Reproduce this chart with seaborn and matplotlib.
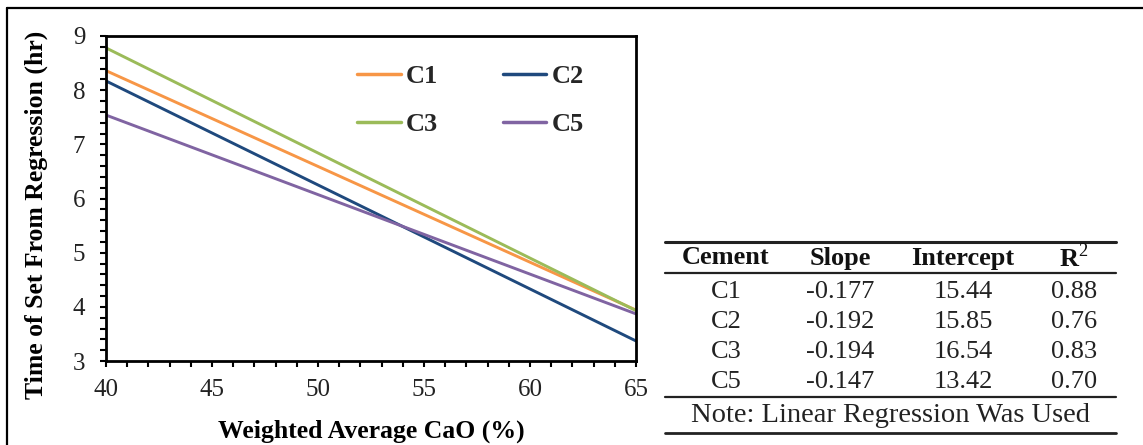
import matplotlib
matplotlib.use("Agg")
import matplotlib.pyplot as plt
from matplotlib.lines import Line2D
from matplotlib.ticker import MultipleLocator
import seaborn as sns
import pandas as pd

# ---- data ----
cements = ["C1", "C2", "C3", "C5"]
cao_x = [40, 65]
set_time_at_40 = [8.36, 8.17, 8.78, 7.54]
set_time_at_65 = [3.94, 3.37, 3.93, 3.87]
colors = ["#F79646", "#1F497D", "#9BBB59", "#8064A2"]

table_header = ["Cement", "Slope", "Intercept", "R$^2$"]
table_slope = ["-0.177", "-0.192", "-0.194", "-0.147"]
table_intercept = ["15.44", "15.85", "16.54", "13.42"]
table_r2 = ["0.88", "0.76", "0.83", "0.70"]
table_note = "Note: Linear Regression Was Used"

rows = []
for c, y0, y1 in zip(cements, set_time_at_40, set_time_at_65):
    rows.append({"CaO": cao_x[0], "Time": y0, "Cement": c})
    rows.append({"CaO": cao_x[1], "Time": y1, "Cement": c})
df = pd.DataFrame(rows)

sns.set_theme(style="white")
plt.rcParams["font.family"] = ["Liberation Serif", "DejaVu Serif"]
plt.rcParams["mathtext.fontset"] = "custom"
plt.rcParams["mathtext.rm"] = "Liberation Serif"
plt.rcParams["mathtext.bf"] = "Liberation Serif:bold"

W, H = 1143, 445
fig = plt.figure(figsize=(W / 100, H / 100), dpi=100)
fig.patch.set_facecolor("white")

def fx(px):
    return px / W

def fy(py):
    return 1 - py / H

ax = fig.add_axes([fx(106), fy(361), fx(636) - fx(106), fy(36) - fy(361)])
sns.lineplot(data=df, x="CaO", y="Time", hue="Cement", hue_order=cements,
             palette=colors, linewidth=2.1, ax=ax, legend=False)

ax.set_xlim(40, 65)
ax.set_ylim(3, 9)
ax.xaxis.set_major_locator(MultipleLocator(5))
ax.xaxis.set_minor_locator(MultipleLocator(1))
ax.yaxis.set_major_locator(MultipleLocator(1))
ax.yaxis.set_minor_locator(MultipleLocator(0.2))
ax.tick_params(which="both", direction="out", color="black", width=1.5,
               length=4, bottom=True, left=True, top=False, right=False)
ax.tick_params(which="major", labelsize=18, labelcolor="#222222")
ax.tick_params(axis="x", which="major", pad=9)
ax.tick_params(axis="y", which="major", pad=11)
for s in ax.spines.values():
    s.set_color("black")
    s.set_linewidth(2.0)

ax.set_xlabel("Weighted Average CaO (%)", fontsize=18.5, fontweight="bold",
              labelpad=13.5, color="black")
ax.set_ylabel("Time of Set From Regression (hr)", fontsize=18.5,
              fontweight="bold", color="black")
ax.yaxis.set_label_coords((48 - 106) / 530, (361 - 215) / 325)

handles = [Line2D([0], [0], color=col, lw=2.5) for col in colors]
order = [0, 2, 1, 3]
leg = ax.legend([handles[i] for i in order], [cements[i] for i in order],
                ncol=2, loc="upper left", bbox_to_anchor=(0.474, 0.913),
                frameon=False, prop={"weight": "bold", "size": 19},
                handlelength=1.65, handletextpad=0.2, columnspacing=2.45,
                labelspacing=0.94, borderpad=0, borderaxespad=0)

# ---- outer frame (cropped) ----
fig.add_artist(Line2D([fx(7), 1.0], [fy(8), fy(8)], color="black", lw=1.6,
                      transform=fig.transFigure))
fig.add_artist(Line2D([fx(7), fx(7)], [fy(8), 0.0], color="black", lw=1.6,
                      transform=fig.transFigure))

# ---- table ----
tx0, tx1 = fx(665), fx(1116)
col_x = [726, 840, 963, 1074]
for py, lw in [(242, 2.2), (273, 1.6), (397, 1.6), (433, 2.0)]:
    fig.add_artist(Line2D([tx0, tx1], [fy(py), fy(py)], color="#222222",
                          lw=lw, transform=fig.transFigure))
for cx, h in zip(col_x, table_header):
    fig.text(fx(cx), fy(258), h, ha="center", va="center", fontsize=19,
             fontweight="bold", color="#111111")
row_y = [292, 322, 352, 382]
for i, py in enumerate(row_y):
    vals = [cements[i], table_slope[i], table_intercept[i], table_r2[i]]
    for cx, v in zip(col_x, vals):
        fig.text(fx(cx), fy(py), v, ha="center", va="center", fontsize=19,
                 color="#222222")
fig.text(fx(891), fy(416), table_note, ha="center", va="center",
         fontsize=20.5, color="#222222")

fig.savefig("out.png", dpi=100, facecolor="white")
